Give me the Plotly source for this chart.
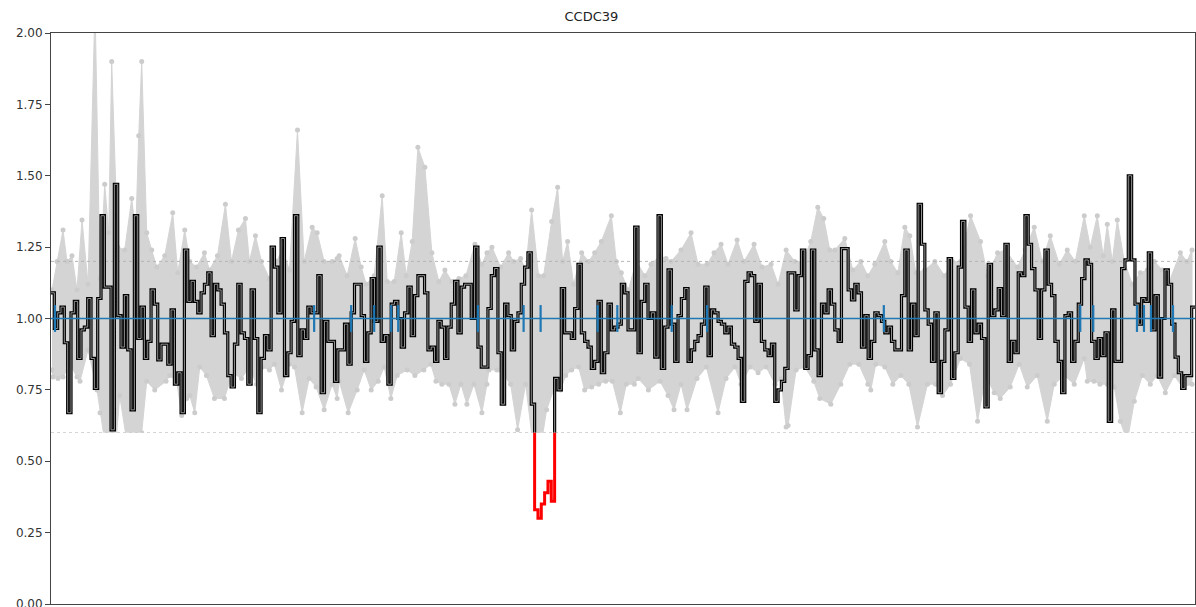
import plotly.graph_objects as go

title = "CCDC39"
y_ticks = [0.00, 0.25, 0.50, 0.75, 1.00, 1.25, 1.50, 1.75, 2.00]

# step-line ratio per bin (read left to right)
ratio_a = [1.09, 0.965, 1.02, 1.04, 0.915, 0.67, 1.02, 1.06, 0.86, 0.96, 0.97, 1.07, 0.86, 0.755, 1.07, 1.36, 1.11, 1.11, 0.61, 1.47,
           1.01, 0.90, 1.08, 0.89, 0.68, 1.36, 0.93, 1.04, 0.86, 0.92, 1.10, 1.05, 0.855, 0.91, 0.91, 0.84, 1.03, 0.77, 0.81, 0.67,
           1.24]
ratio_b = [1.06, 1.13, 1.06, 1.02, 1.09, 1.12, 1.16, 0.94, 1.12, 1.10, 1.05, 0.95, 0.80, 0.76, 0.91, 1.12, 0.95, 0.93, 0.77, 1.10,
           0.93, 0.67, 0.86, 0.94, 0.89, 1.25, 1.18, 1.02, 1.28, 0.80, 0.88, 0.99, 1.36, 0.87, 0.96, 0.93, 1.04, 1.02, 1.02, 1.15,
           0.74, 0.99, 0.92, 0.92, 0.78]
ratio_c = [0.89, 0.89, 0.98, 0.84, 1.02, 1.12, 1.12, 1.01, 0.85, 0.95, 1.14, 0.99, 1.25, 0.92, 0.94, 0.77, 1.05, 1.06, 1.00, 0.90,
           1.02, 1.11, 0.94, 1.08, 1.15, 1.15, 1.09, 0.89, 0.90, 0.85, 0.99, 0.97, 0.86, 0.97, 1.05, 1.13, 0.95, 1.11, 1.12, 1.12,
           1.00, 1.25, 0.90, 0.83, 0.83]
ratio_d = [1.035, 1.15, 1.175, 0.88, 0.70, 1.05, 1.01, 0.89, 0.99, 1.02, 1.12, 1.18, 1.23, 0.70, 0.33, 0.30, 0.35, 0.39, 0.43, 0.36,
           0.79, 0.75, 1.105, 0.95, 0.95, 0.93, 1.035, 1.19, 0.95, 0.92, 0.90, 0.825, 0.85, 1.06, 0.81, 0.88, 1.05, 0.96, 0.97, 0.98,
           1.12, 1.09, 0.96, 0.96, 1.32]
ratio_e = [0.88, 1.06, 1.12, 1.00, 1.02, 0.865, 1.36, 0.825, 0.97, 1.17, 0.98, 0.85, 1.01, 1.07, 1.105, 0.85, 0.89, 0.92, 0.94,
           0.98, 1.11, 0.87, 1.03, 1.02, 0.99, 0.98, 0.95, 0.97, 0.91, 0.90, 0.86, 0.71, 1.13, 1.16, 1.15, 0.99, 1.12, 0.92, 0.89,
           0.87, 0.91, 0.71, 0.75, 0.78, 0.825]
ratio_f = [1.16, 1.16, 1.03, 1.15, 1.24, 0.825, 0.87, 1.24, 0.89, 0.80, 1.05, 1.02, 1.10, 1.05, 0.96, 0.92, 1.245, 1.245, 1.10, 1.065,
           1.12, 1.09, 0.90, 1.01, 0.86, 0.92, 1.02, 1.01, 0.99, 0.95, 0.97, 0.92, 0.89, 0.89, 1.08, 1.24, 0.89, 1.05, 0.94, 1.40,
           1.26, 1.03, 0.98, 0.85, 1.02]
ratio_g = [0.74, 0.85, 0.96, 1.21, 0.79, 0.88, 1.18, 1.34, 1.04, 0.92, 1.10, 0.95, 0.98, 0.93, 0.69, 1.19, 1.01, 1.03, 1.105, 1.01,
           1.26, 0.85, 0.92, 0.88, 1.16, 1.15, 1.36, 1.26, 1.175, 1.10, 0.93, 1.10, 1.24, 1.12, 1.08, 0.92, 0.85, 0.74, 1.01,
           1.02, 0.85, 0.92, 1.05, 1.14, 1.205]
ratio_h = [1.19, 0.92, 0.86, 0.93, 0.87, 0.95, 0.64, 1.03, 0.85, 0.85, 1.175, 1.205, 1.50, 1.205, 1.05, 0.98, 1.07, 1.06, 1.23, 0.96,
           1.08, 0.795, 1.00, 1.17, 1.12, 0.98, 0.865, 0.81, 0.755, 0.80, 0.80, 1.04]

# grey envelope (position in bin units, value)
upper_pos = [0.3, 1.8, 3.6, 4.8, 6.3, 7.8, 9.3, 11.1, 13.2, 14.7, 16.1, 17.3, 18.2, 20.0, 22.1, 24.2, 25.4, 26.3, 27.2, 28.7,
             30.2, 31.7, 34.1, 36.5, 38.0, 40.1, 41.6, 43.6, 46.0, 47.5, 49.9, 52.3, 54.1, 56.2, 58.3, 59.5, 61.3, 63.1, 65.5, 67.6,
             69.4, 71.5, 73.9, 75.9, 78.3, 79.8, 81.9, 84.3, 85.8, 86.4, 88.8, 91.2, 93.0, 94.5, 96.9, 99.3, 100.8, 102.9, 105.0, 106.5,
             108.3, 110.0, 112.1, 114.2, 116.3, 118.1, 120.2, 122.3, 124.4, 127.1, 129.2, 130.7, 132.2, 134.8, 137.2, 138.7, 140.8, 142.3, 144.1, 146.2,
             147.7, 150.1, 151.9, 153.4, 154.9, 156.7, 159.1, 161.2, 163.0, 165.0, 168.0, 169.5, 171.0, 173.1, 175.5, 178.1, 179.9, 182.6, 184.4, 185.9,
             188.9, 191.9, 194.0, 196.7, 198.8, 200.9, 203.0, 205.7, 207.8, 210.8, 213.2, 215.9, 218.0, 220.4, 223.0, 225.4, 227.8, 229.9, 231.7, 233.5,
             235.0, 238.0, 240.4, 242.8, 244.9, 247.0, 250.0, 251.8, 253.9, 256.0, 257.5, 259.3, 262.0, 265.0, 267.9, 270.3, 272.7, 275.7, 278.7, 280.8,
             283.8, 286.2, 289.8, 292.1, 294.8, 297.2, 299.6, 302.3, 304.7, 307.1, 309.8, 311.6, 313.7, 315.5, 316.7, 318.2, 319.7, 321.8, 324.2, 326.6,
             328.7, 330.8, 333.2, 335.3, 338.6, 340.6, 342.1]
upper_val = [1.10, 1.20, 1.31, 1.20, 1.22, 1.10, 1.345, 1.12, 2.10, 1.14, 1.47, 1.30, 1.90, 1.25, 1.24, 1.42, 1.30, 1.64, 1.90, 1.30,
             1.24, 1.18, 1.22, 1.37, 1.16, 1.31, 1.20, 1.18, 1.23, 1.17, 1.22, 1.40, 1.20, 1.31, 1.35, 1.20, 1.29, 1.20, 1.14, 1.20,
             1.24, 1.17, 1.66, 1.20, 1.32, 1.30, 1.20, 1.20, 1.21, 1.22, 1.15, 1.28, 1.18, 1.12, 1.15, 1.43, 1.13, 1.13, 1.30, 1.15,
             1.27, 1.60, 1.53, 1.23, 1.13, 1.17, 1.13, 1.14, 1.15, 1.26, 1.19, 1.23, 1.25, 1.18, 1.23, 1.20, 1.21, 1.17, 1.38, 1.15,
             1.15, 1.34, 1.46, 1.20, 1.27, 1.12, 1.23, 1.20, 1.23, 1.27, 1.36, 1.20, 1.16, 1.10, 1.20, 1.15, 1.19, 1.22, 1.21, 1.20,
             1.24, 1.30, 1.19, 1.19, 1.23, 1.26, 1.19, 1.275, 1.20, 1.26, 1.18, 1.19, 1.12, 1.24, 1.20, 1.20, 1.27, 1.39, 1.35, 1.24,
             1.24, 1.28, 1.17, 1.20, 1.15, 1.19, 1.27, 1.20, 1.16, 1.32, 1.29, 1.16, 1.17, 1.20, 1.15, 1.20, 1.20, 1.36, 1.27, 1.15,
             1.23, 1.24, 1.18, 1.24, 1.32, 1.20, 1.29, 1.19, 1.24, 1.20, 1.36, 1.25, 1.36, 1.22, 1.33, 1.20, 1.345, 1.20, 1.12, 1.16,
             1.17, 1.20, 1.17, 1.13, 1.23, 1.20, 1.24]
lower_pos = [0.3, 0.6, 2.1, 3.6, 5.7, 7.8, 8.7, 11.1, 13.8, 14.7, 16.1, 18.2, 20.6, 23.0, 24.5, 27.2, 28.7, 31.1, 34.5, 35.6,
             37.7, 39.2, 40.7, 41.6, 43.1, 44.6, 46.6, 49.0, 52.0, 54.4, 57.1, 59.5, 61.6, 63.4, 65.5, 67.0, 69.1, 71.5, 73.0, 75.3,
             77.4, 79.5, 81.9, 84.3, 85.8, 86.4, 89.1, 91.8, 93.9, 96.0, 98.1, 99.9, 101.9, 103.8, 106.8, 109.1, 111.8, 113.9, 115.4, 117.2,
             119.3, 121.1, 122.9, 124.7, 126.8, 129.2, 130.7, 131.3, 133.7, 135.8, 137.8, 139.9, 142.3, 144.4, 147.1, 148.6, 151.3, 152.8, 154.3, 156.1,
             158.2, 160.0, 162.1, 164.2, 166.3, 168.3, 170.7, 172.5, 174.9, 176.1, 179.1, 182.6, 185.0, 186.8, 188.9, 190.7, 193.7, 196.5, 200.0, 202.4,
             205.1, 206.9, 209.6, 212.0, 214.4, 217.1, 218.9, 220.4, 221.0, 223.4, 226.0, 228.7, 230.5, 233.8, 236.8, 239.5, 242.2, 244.9, 245.8, 247.3,
             250.0, 252.4, 254.8, 257.2, 259.8, 262.8, 265.2, 267.3, 269.7, 272.7, 275.4, 277.8, 280.2, 282.8, 284.6, 287.6, 290.3, 292.7, 295.7, 298.7,
             300.8, 303.8, 306.8, 309.8, 310.7, 312.7, 314.5, 316.7, 318.8, 320.6, 322.7, 324.8, 327.2, 329.6, 331.7, 334.1, 336.8, 339.2, 342.1]
lower_val = [0.82, 0.795, 0.79, 0.795, 0.84, 0.795, 0.78, 0.89, 0.75, 0.67, 0.57, 0.38, 0.73, 0.55, 0.52, 0.60, 0.78, 0.75, 0.78, 0.80,
             0.78, 0.66, 0.72, 0.73, 0.67, 0.83, 0.80, 0.72, 0.72, 0.81, 0.79, 0.83, 0.77, 0.83, 0.82, 0.84, 0.75, 0.84, 0.83, 0.67,
             0.79, 0.76, 0.68, 0.77, 0.72, 0.78, 0.67, 0.75, 0.82, 0.75, 0.78, 0.83, 0.72, 0.80, 0.82, 0.80, 0.82, 0.84, 0.78, 0.77,
             0.77, 0.70, 0.77, 0.70, 0.77, 0.67, 0.77, 0.82, 0.82, 0.80, 0.77, 0.61, 0.77, 0.57, 0.57, 0.68, 0.77, 0.75, 0.80, 0.82,
             0.83, 0.75, 0.76, 0.77, 0.78, 0.78, 0.67, 0.77, 0.77, 0.79, 0.75, 0.78, 0.73, 0.68, 0.77, 0.68, 0.79, 0.83, 0.67, 0.79,
             0.83, 0.77, 0.83, 0.81, 0.83, 0.77, 0.79, 0.62, 0.625, 0.82, 0.83, 0.78, 0.72, 0.70, 0.77, 0.84, 0.84, 0.77, 0.75, 0.84,
             0.83, 0.77, 0.80, 0.77, 0.62, 0.77, 0.77, 0.73, 0.77, 0.86, 0.84, 0.64, 0.80, 0.74, 0.72, 0.76, 0.84, 0.76, 0.80, 0.64,
             0.77, 0.80, 0.77, 0.86, 0.78, 0.78, 0.77, 0.77, 0.76, 0.64, 0.57, 0.71, 0.80, 0.77, 0.80, 0.74, 0.80, 0.76, 0.77]

# exon markers (bin units)
exon_pos = [1.2, 78.9, 90.0, 96.9, 102.0, 104.1, 128.0, 141.7, 146.8, 163.9, 169.8, 186.1, 196.7, 249.7, 308.6, 312.5, 325.6, 327.7, 329.8, 336.4]

baseline = 1.0
upper_thr = 1.2
lower_thr = 0.6
exon_half = 0.047

ratio = ratio_a + ratio_b + ratio_c + ratio_d + ratio_e + ratio_f + ratio_g + ratio_h
n = len(ratio)
step_x = list(range(n + 1))
step_y = ratio + [ratio[-1]]

fig = go.Figure()

# grey envelope
fig.add_trace(go.Scatter(
    x=upper_pos + lower_pos[::-1], y=upper_val + lower_val[::-1],
    mode="lines", fill="toself", fillcolor="#d4d4d4",
    line=dict(color="#d4d4d4", width=1), hoverinfo="skip"))
fig.add_trace(go.Scatter(
    x=upper_pos + lower_pos, y=upper_val + lower_val, mode="markers",
    marker=dict(color="#cccccc", size=5), hoverinfo="skip"))

# threshold lines
for thr in (upper_thr, lower_thr):
    fig.add_trace(go.Scatter(x=[0, n], y=[thr, thr], mode="lines",
                             line=dict(color="#b5b5b5", width=1, dash="dot"), hoverinfo="skip"))

# step line (outlined)
fig.add_trace(go.Scatter(x=step_x, y=step_y, mode="lines", line_shape="hv",
                         line=dict(color="#000000", width=3.2)))
fig.add_trace(go.Scatter(x=step_x, y=step_y, mode="lines", line_shape="hv",
                         line=dict(color="#a0a0a0", width=0.9)))

# baseline and exon marks
fig.add_trace(go.Scatter(x=[0, n], y=[baseline, baseline], mode="lines",
                         line=dict(color="#1f77b4", width=1.6)))
ex_x, ex_y = [], []
for p in exon_pos:
    ex_x += [p, p, None]
    ex_y += [baseline - exon_half, baseline + exon_half, None]
fig.add_trace(go.Scatter(x=ex_x, y=ex_y, mode="lines",
                         line=dict(color="#1f77b4", width=2.2)))

# red part below lower threshold (clipped by second y-axis)
fig.add_trace(go.Scatter(x=step_x, y=step_y, mode="lines", line_shape="hv",
                         line=dict(color="#ff0000", width=3), yaxis="y2"))

axis_col = "#444444"
fig.update_layout(
    width=1196, height=607,
    margin=dict(l=51, r=1, t=33, b=3, autoexpand=False),
    paper_bgcolor="white", plot_bgcolor="white",
    showlegend=False,
    title=dict(text=title, x=565 / 1196, xref="paper", xanchor="center",
               y=1 - 16 / 607, yanchor="middle",
               font=dict(family="DejaVu Sans", size=13, color="#222222")),
    xaxis=dict(range=[0, n], showline=True, mirror=True, linecolor=axis_col, linewidth=1,
               showgrid=False, zeroline=False, showticklabels=False, ticks="", automargin=False),
    yaxis=dict(range=[0, 2], tickvals=y_ticks, ticktext=[f"{v:.2f}" for v in y_ticks],
               ticks="outside", ticklen=5, tickcolor=axis_col,
               showline=True, mirror=True, linecolor=axis_col, linewidth=1,
               showgrid=False, zeroline=False, ticklabeloverflow="allow", automargin=False,
               tickfont=dict(family="DejaVu Sans", size=12, color="#333333")),
    yaxis2=dict(domain=[0, lower_thr / 2.0], range=[0, lower_thr], anchor="x",
                visible=False, showgrid=False, zeroline=False, automargin=False),
)

fig.write_html("out.html")
